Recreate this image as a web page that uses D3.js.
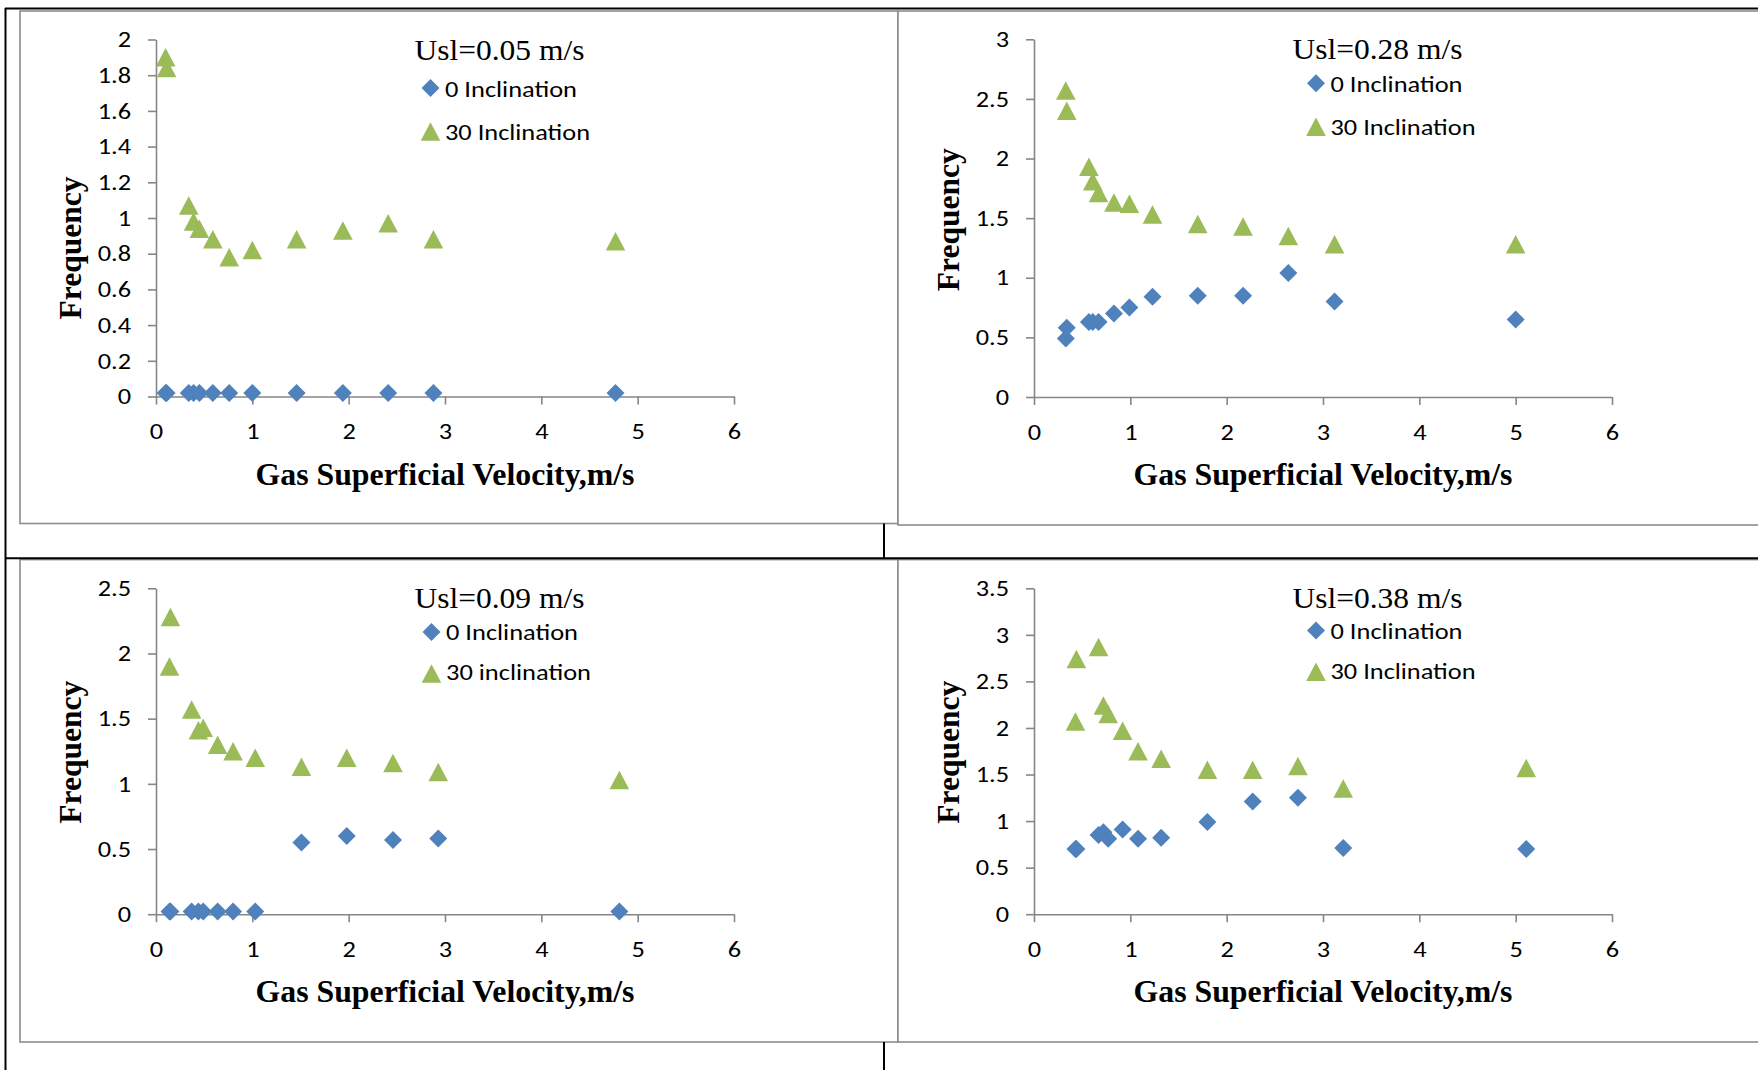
<!DOCTYPE html>
<html>
<head>
<meta charset="utf-8">
<script src="https://cdn.jsdelivr.net/npm/d3@7"></script>
<style>
  html, body { margin: 0; padding: 0; background: #fff; }
  svg { display: block; }
</style>
</head>
<body>
<div id="chart"></div>
<script>
// ==================================================
// Data
// ==================================================
const X_TICKS = [0, 1, 2, 3, 4, 5, 6];

// Usl = 0.05 m/s
const vg005 = [0.10, 0.11, 0.34, 0.39, 0.45, 0.59, 0.76, 1.00, 1.46, 1.94, 2.41, 2.88, 4.77];
const freq0_005 = [0.02, 0.02, 0.02, 0.02, 0.02, 0.02, 0.02, 0.02, 0.02, 0.02, 0.02, 0.02, 0.02];
const freq30_005 = [1.90, 1.84, 1.07, 0.98, 0.94, 0.88, 0.78, 0.82, 0.88, 0.93, 0.97, 0.88, 0.87];
const yTicks005 = [0, 0.2, 0.4, 0.6, 0.8, 1, 1.2, 1.4, 1.6, 1.8, 2];

// Usl = 0.28 m/s
const vg028 = [0.33, 0.34, 0.57, 0.61, 0.67, 0.83, 0.99, 1.23, 1.70, 2.17, 2.64, 3.12, 5.00];
const freq0_028 = [0.49, 0.58, 0.63, 0.63, 0.63, 0.70, 0.75, 0.84, 0.85, 0.85, 1.04, 0.80, 0.65];
const freq30_028 = [2.57, 2.40, 1.93, 1.81, 1.71, 1.63, 1.62, 1.53, 1.45, 1.43, 1.35, 1.28, 1.28];
const yTicks028 = [0, 0.5, 1, 1.5, 2, 2.5, 3];

// Usl = 0.09 m/s
const vg009 = [0.14, 0.15, 0.37, 0.44, 0.49, 0.64, 0.80, 1.03, 1.51, 1.98, 2.46, 2.93, 4.81];
const freq0_009 = [0.02, 0.02, 0.02, 0.02, 0.02, 0.02, 0.02, 0.02, 0.55, 0.60, 0.57, 0.58, 0.02];
const freq30_009 = [1.90, 2.28, 1.57, 1.41, 1.43, 1.30, 1.25, 1.20, 1.13, 1.20, 1.16, 1.09, 1.03];
const yTicks009 = [0, 0.5, 1, 1.5, 2, 2.5];

// Usl = 0.38 m/s
const vg038 = [0.43, 0.44, 0.67, 0.72, 0.77, 0.92, 1.08, 1.32, 1.80, 2.27, 2.74, 3.21, 5.11];
const freq0_038 = [0.70, 0.70, 0.85, 0.88, 0.81, 0.91, 0.81, 0.82, 0.99, 1.21, 1.25, 0.71, 0.70];
const freq30_038 = [2.07, 2.74, 2.87, 2.24, 2.15, 1.97, 1.75, 1.67, 1.55, 1.55, 1.59, 1.35, 1.57];
const yTicks038 = [0, 0.5, 1, 1.5, 2, 2.5, 3, 3.5];

const panels = [
  { title: "Usl=0.05 m/s", vg: vg005, f0: freq0_005, f30: freq30_005, yTicks: yTicks005,
    names: ["0 Inclination", "30 Inclination"] },
  { title: "Usl=0.28 m/s", vg: vg028, f0: freq0_028, f30: freq30_028, yTicks: yTicks028,
    names: ["0 Inclination", "30 Inclination"] },
  { title: "Usl=0.09 m/s", vg: vg009, f0: freq0_009, f30: freq30_009, yTicks: yTicks009,
    names: ["0 Inclination", "30 inclination"] },
  { title: "Usl=0.38 m/s", vg: vg038, f0: freq0_038, f30: freq30_038, yTicks: yTicks038,
    names: ["0 Inclination", "30 Inclination"] }
];

// ==================================================
// Layout (pixel positions of each panel in the page)
// ==================================================
const layout = [
  { x: 20,  y: 11,    w: 878, h: 512.5, top: 28.5, ph: 357, legX: 274.5, legY: [48.5, 57, 92, 100], freqDy: 30 },
  { x: 898, y: 11,    w: 900, h: 514,   top: 28.3, ph: 357.7, legX: 282, legY: [44, 52.5, 87.5, 95.7], freqDy: 1.5 },
  { x: 20,  y: 559.6, w: 878, h: 482.4, top: 28.7, ph: 325.9, legX: 275.5, legY: [43.7, 51.7, 85.2, 92], freqDy: 1 },
  { x: 898, y: 559.6, w: 900, h: 482.4, top: 28.7, ph: 325.9, legX: 282, legY: [42.3, 50.4, 83.5, 90.3], freqDy: 1 }
];

const W = 1758, H = 1070;
const BLUE = "#4F81BD", GREEN = "#9BBB59", AXIS = "#868686";
const SANS = "Carlito, Calibri, Lato, 'Open Sans', sans-serif";
const SERIF = "'Liberation Serif', 'Times New Roman', serif";

const DIAMOND = "M0,-9L9,0L0,9L-9,0Z";
const TRIANGLE = "M0,-9.3L9.8,9.2L-9.8,9.2Z";

function fit(sel, len) {
  sel.attr("textLength", len).attr("lengthAdjust", "spacingAndGlyphs");
}

const svg = d3.select("#chart").append("svg")
  .attr("width", W)
  .attr("height", H)
  .style("background", "#fff");

panels.forEach((p, i) => {
  const L = layout[i];
  const g = svg.append("g").attr("transform", `translate(${L.x},${L.y})`);

  // panel frame
  g.append("rect")
    .attr("x", 0).attr("y", 0)
    .attr("width", L.w).attr("height", L.h)
    .attr("fill", "#fff")
    .attr("stroke", "#8c8c8c")
    .attr("stroke-width", 1.6);

  const left = 136, pw = 578;
  const x = d3.scaleLinear().domain([0, 6]).range([left, left + pw]);
  const y = d3.scaleLinear().domain([0, d3.max(p.yTicks)]).range([L.top + L.ph, L.top]);

  // axes
  const xAxis = g.append("g")
    .attr("transform", `translate(0,${L.top + L.ph})`)
    .call(d3.axisBottom(x).tickValues(X_TICKS).tickSize(8).tickSizeOuter(0).tickPadding(19).tickFormat(d => String(d)));
  const yAxis = g.append("g")
    .attr("transform", `translate(${left},0)`)
    .call(d3.axisLeft(y).tickValues(p.yTicks).tickSize(8).tickSizeOuter(0).tickPadding(17).tickFormat(d => String(d)));

  [xAxis, yAxis].forEach(a => {
    a.attr("font-size", null);
    a.select(".domain").attr("stroke", AXIS).attr("stroke-width", 1.6);
    a.selectAll(".tick line").attr("stroke", AXIS).attr("stroke-width", 1.6);
    a.selectAll(".tick text")
      .attr("fill", "#000")
      .style("font-family", SANS)
      .style("font-size", "22.5px")
      .each(function () {
        // the source figure is stretched sideways a little
        const len = this.getComputedTextLength();
        d3.select(this).call(fit, len * 1.17);
      });
  });

  // points: 0 inclination first, then 30 inclination
  g.append("g").selectAll("path")
    .data(p.vg.map((v, k) => [v, p.f0[k]]))
    .join("path")
    .attr("d", DIAMOND)
    .attr("fill", BLUE)
    .attr("transform", d => `translate(${x(d[0])},${y(d[1])})`);

  g.append("g").selectAll("path")
    .data(p.vg.map((v, k) => [v, p.f30[k]]))
    .join("path")
    .attr("d", TRIANGLE)
    .attr("fill", GREEN)
    .attr("transform", d => `translate(${x(d[0])},${y(d[1])})`);

  // title inside the plot
  g.append("text")
    .attr("x", left + 343.5)
    .attr("y", L.top + 20)
    .attr("text-anchor", "middle")
    .style("font-family", SERIF)
    .style("font-size", "30px")
    .text(p.title)
    .call(fit, 170);

  // legend
  const lx = left + L.legX;
  g.append("path").attr("d", DIAMOND).attr("fill", BLUE)
    .attr("transform", `translate(${lx},${L.top + L.legY[0]})`);
  g.append("text")
    .attr("x", lx + 14.5).attr("y", L.top + L.legY[1])
    .style("font-family", SANS).style("font-size", "23px")
    .text(p.names[0])
    .call(fit, 132);
  g.append("path").attr("d", TRIANGLE).attr("fill", GREEN)
    .attr("transform", `translate(${lx},${L.top + L.legY[2]})`);
  g.append("text")
    .attr("x", lx + 14.5).attr("y", L.top + L.legY[3])
    .style("font-family", SANS).style("font-size", "23px")
    .text(p.names[1])
    .call(fit, 145);

  // axis titles
  g.append("text")
    .attr("x", left + pw / 2)
    .attr("y", L.top + L.ph + 88)
    .attr("text-anchor", "middle")
    .style("font-family", SERIF)
    .style("font-weight", "bold")
    .style("font-size", "31px")
    .text("Gas Superficial Velocity,m/s")
    .call(fit, 379);

  g.append("text")
    .attr("transform", `translate(${left - 75},${L.top + L.ph / 2 + L.freqDy}) rotate(-90)`)
    .attr("text-anchor", "middle")
    .style("font-family", SERIF)
    .style("font-weight", "bold")
    .style("font-size", "31px")
    .text("Frequency")
    .call(fit, 143);
});

// table rules of the page the figure was cut from
const rules = [
  [5, 8.5, W, 8.5],
  [5.5, 8, 5.5, H],
  [5.5, 558.3, W, 558.3],
  [884, 523.5, 884, 558.3],
  [884, 1042, 884, H]
];
svg.append("g").selectAll("line")
  .data(rules)
  .join("line")
  .attr("x1", d => d[0]).attr("y1", d => d[1])
  .attr("x2", d => d[2]).attr("y2", d => d[3])
  .attr("stroke", "#000")
  .attr("stroke-width", 2);
</script>
</body>
</html>
